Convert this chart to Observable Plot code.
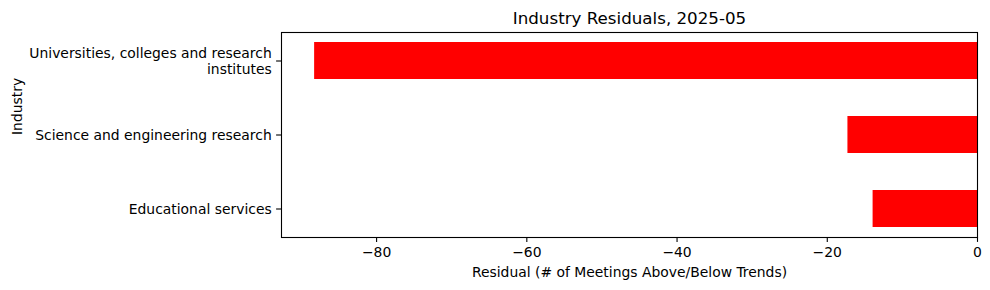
<!DOCTYPE html>
<html>
<head>
<meta charset="utf-8">
<script src="https://cdn.jsdelivr.net/npm/d3@7"></script>
<script src="https://cdn.jsdelivr.net/npm/@observablehq/plot@0.6"></script>
<style>
  body { margin: 0; background: #fff; }
  #chart svg { display: block; }
</style>
</head>
<body>
<div id="chart"></div>
<script>
const industries = [
  "Universities, colleges and research institutes",
  "Science and engineering research",
  "Educational services"
];
const tickLabels = [
  "Universities, colleges and research\ninstitutes",
  "Science and engineering research",
  "Educational services"
];
const residuals = [-88.25, -17.25, -13.9];
const xTicks = [-80, -60, -40, -20, 0];
const title = "Industry Residuals, 2025-05";
const xLabel = "Residual (# of Meetings Above/Below Trends)";
const yLabel = "Industry";

const data = industries.map((d, i) => ({industry: d, value: residuals[i]}));
const labelMap = new Map(industries.map((d, i) => [d, tickLabels[i]]));
const fmt = v => (v < 0 ? "\u2212" + Math.abs(v) : String(v));

const chart = Plot.plot({
  width: 990,
  height: 290,
  marginLeft: 281,
  marginRight: 13,
  marginTop: 32,
  marginBottom: 53,
  style: {fontFamily: "DejaVu Sans, sans-serif", fontSize: "13.9px", color: "black", background: "white"},
  x: {domain: [-92.66, 0]},
  y: {domain: industries, paddingInner: 0.5, paddingOuter: 0.125},
  marks: [
    Plot.barX(data, {x: "value", y: "industry", fill: "#ff0000"}),
    Plot.frame({stroke: "black", strokeWidth: 1.1}),
    Plot.axisX({ticks: xTicks, tickFormat: fmt, tickSize: 4.9, tickPadding: 4.9, strokeWidth: 1.1, label: null, fill: "black"}),
    Plot.axisY({tickFormat: d => labelMap.get(d), tickSize: 4.9, tickPadding: 4.9, strokeWidth: 1.1, label: null, lineHeight: 1.1, fill: "black"}),
    Plot.text([xLabel], {frameAnchor: "bottom", dy: 35, lineAnchor: "middle", fill: "black"}),
    Plot.text([yLabel], {frameAnchor: "left", dx: -264, rotate: -90, lineAnchor: "middle", fill: "black"}),
    Plot.text([title], {frameAnchor: "top", dy: -14, lineAnchor: "middle", fontSize: 16.7, fill: "black"})
  ]
});
document.getElementById("chart").appendChild(chart);
</script>
</body>
</html>
